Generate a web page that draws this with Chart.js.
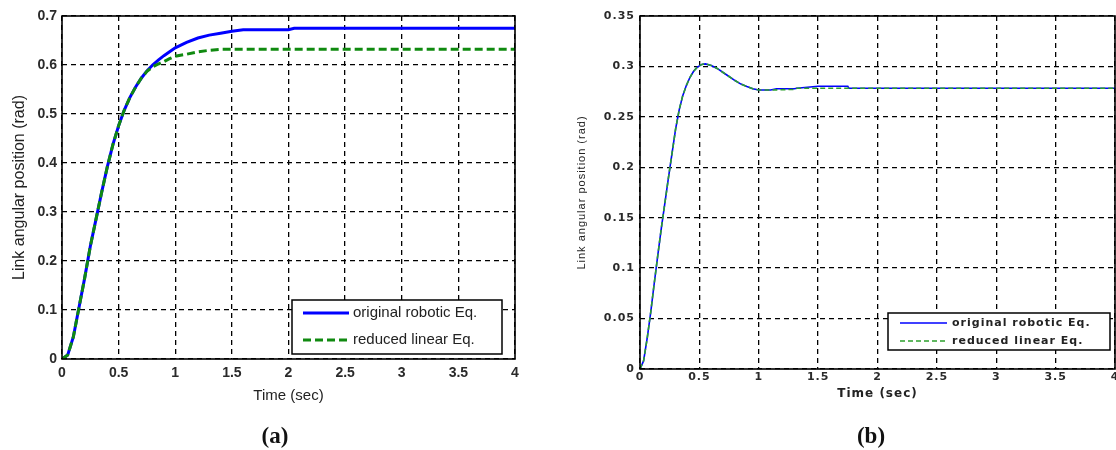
<!DOCTYPE html>
<html><head><meta charset="utf-8">
<script src="https://cdn.jsdelivr.net/npm/chart.js@4.4.1/dist/chart.umd.min.js"></script>
<style>
html,body{margin:0;padding:0;background:#fff;width:1116px;height:450px;overflow:hidden;position:relative;}
.cap{position:absolute;top:421px;font:bold 23px "Liberation Serif",serif;color:#111;width:60px;text-align:center;line-height:30px;}
</style></head><body>
<canvas id="ca" width="540" height="450" style="position:absolute;left:0;top:0"></canvas>
<canvas id="cb" width="570" height="450" style="position:absolute;left:570px;top:0"></canvas>
<div class="cap" style="left:245px">(a)</div>
<div class="cap" style="left:841px">(b)</div>
<script>
// ---- data: panel (a)
const timeA = [0,0.05,0.1,0.15,0.2,0.25,0.3,0.35,0.4,0.45,0.5,0.55,0.6,0.65,0.7,0.75,0.8,0.85,0.9,0.95,1.0,1.1,1.2,1.3,1.4,1.5,1.6,1.8,2.0,2.05,2.5,3,3.5,4];
const originalA = [0,0.008,0.045,0.105,0.165,0.23,0.285,0.34,0.392,0.438,0.476,0.508,0.534,0.555,0.573,0.588,0.6,0.61,0.619,0.627,0.635,0.646,0.655,0.661,0.665,0.669,0.672,0.672,0.672,0.675,0.675,0.675,0.675,0.675];
const reducedA = [0,0.008,0.045,0.105,0.165,0.23,0.285,0.34,0.392,0.438,0.476,0.508,0.534,0.555,0.573,0.587,0.596,0.602,0.607,0.613,0.618,0.622,0.627,0.63,0.632,0.632,0.632,0.632,0.632,0.632,0.632,0.632,0.632,0.632];
// ---- data: panel (b)
const timeB = [0,0.03,0.06,0.09,0.12,0.15,0.18,0.21,0.24,0.27,0.3,0.33,0.36,0.39,0.42,0.45,0.48,0.52,0.55,0.6,0.65,0.7,0.75,0.8,0.85,0.9,0.95,1.0,1.1,1.15,1.3,1.32,1.5,1.75,1.76,2,2.5,3,3.5,4];
const originalB = [0,0.008,0.03,0.056,0.085,0.113,0.14,0.165,0.19,0.214,0.238,0.257,0.271,0.281,0.289,0.295,0.299,0.302,0.3025,0.301,0.298,0.294,0.29,0.286,0.2825,0.28,0.2778,0.2766,0.2766,0.2779,0.2779,0.2783,0.2803,0.2803,0.2783,0.2783,0.2783,0.2783,0.2783,0.2783];
const reducedB = [0,0.008,0.03,0.056,0.085,0.113,0.14,0.165,0.19,0.214,0.238,0.257,0.271,0.281,0.289,0.295,0.299,0.302,0.3025,0.301,0.298,0.294,0.29,0.286,0.2825,0.28,0.2778,0.2766,0.2766,0.2768,0.2772,0.2783,0.2783,0.2783,0.2783,0.2783,0.2783,0.2783,0.2783,0.2783];
const xTicksA = [0,0.5,1,1.5,2,2.5,3,3.5,4];
const seriesNames = ['original robotic Eq.', 'reduced linear Eq.'];
const axisTitleY = 'Link angular position (rad)';
const axisTitleX = 'Time (sec)';

Chart.defaults.font.family = '"Liberation Sans", Arial, sans-serif';
Chart.defaults.color = '#222';

const frameLegend = {
  id: 'frameLegend',
  beforeDraw(chart) {
    const o = chart.options.plugins.frameLegend;
    chart.ctx.letterSpacing = o.ls || '0px';
  },
  afterDraw(chart) {
    const o = chart.options.plugins.frameLegend;
    const ctx = chart.ctx, a = chart.chartArea, L = o.legend;
    ctx.save();
    ctx.setLineDash([]);
    ctx.strokeStyle = '#000';
    ctx.lineWidth = o.frameWidth;
    ctx.strokeRect(a.left, a.top, a.right - a.left, a.bottom - a.top);
    const x = a.right - L.right - L.w, y = a.bottom - L.bottom - L.h;
    ctx.fillStyle = '#fff';
    ctx.fillRect(x, y, L.w, L.h);
    ctx.lineWidth = L.boxWidth;
    ctx.strokeRect(x, y, L.w, L.h);
    chart.data.datasets.forEach((ds, i) => {
      const yy = y + L.first + i * L.gap;
      ctx.strokeStyle = ds.borderColor;
      ctx.lineWidth = ds.borderWidth;
      ctx.setLineDash(ds.borderDash || []);
      ctx.beginPath(); ctx.moveTo(x + L.lx0, yy); ctx.lineTo(x + L.lx1, yy); ctx.stroke();
      ctx.setLineDash([]);
      ctx.fillStyle = L.color; ctx.font = L.font;
      ctx.textBaseline = 'middle'; ctx.textAlign = 'left';
      ctx.letterSpacing = o.ls || '0px';
      ctx.fillText(ds.label, x + L.tx, yy);
    });
    ctx.restore();
    chart.ctx.letterSpacing = '0px';
  }
};

const fmt = v => String(+Number(v).toFixed(2));

function makeChart(id, cfg) {
  return new Chart(document.getElementById(id), {
    type: 'line',
    data: {
      datasets: [
        { label: seriesNames[0], data: cfg.t.map((t, i) => ({x: t, y: cfg.o[i]})), order: 2,
          borderColor: '#0000ff', borderWidth: cfg.lw, pointRadius: 0, tension: 0, fill: false },
        { label: seriesNames[1], data: cfg.t.map((t, i) => ({x: t, y: cfg.r[i]})), order: 1,
          borderColor: cfg.green, borderWidth: cfg.lw, borderDash: cfg.dash, pointRadius: 0, tension: 0, fill: false }
      ]
    },
    options: {
      responsive: false, animation: false, devicePixelRatio: 1,
      layout: { padding: cfg.pad },
      plugins: { legend: { display: false }, tooltip: { enabled: false }, frameLegend: cfg.fl },
      scales: {
        x: {
          type: 'linear', min: 0, max: 4,
          afterFit: s => { s.height = cfg.xh; s.paddingLeft = 0; s.paddingRight = 0; },
          afterBuildTicks: s => { s.ticks = xTicksA.map(v => ({value: v})); },
          ticks: { padding: cfg.xtp, maxRotation: 0, autoSkip: false, callback: fmt, font: cfg.tickFont, color: cfg.tickColor },
          grid: { color: '#000', lineWidth: cfg.gw, drawTicks: false },
          border: { display: false, dash: [5, 4] },
          title: { display: true, text: axisTitleX, font: cfg.xtFont, color: '#222', padding: {top: 0, bottom: cfg.xtPad} }
        },
        y: {
          type: 'linear', min: 0, max: cfg.ymax,
          afterFit: s => { s.width = cfg.yw; s.paddingTop = 0; s.paddingBottom = 0; },
          ticks: { stepSize: cfg.ystep, padding: cfg.ytp, callback: fmt, font: cfg.tickFont, color: cfg.tickColor },
          grid: { color: '#000', lineWidth: cfg.gw, drawTicks: false },
          border: { display: false, dash: [5, 4] },
          title: { display: true, text: axisTitleY, font: cfg.ytFont, color: '#222', padding: {top: cfg.ytPad, bottom: 0} }
        }
      }
    },
    plugins: [frameLegend]
  });
}

makeChart('ca', {
  t: timeA, o: originalA, r: reducedA, lw: 3, green: '#108a10', dash: [8, 4],
  pad: {left: 0, top: 16, right: 25, bottom: 41}, xh: 50, yw: 62, ymax: 0.7, ystep: 0.1,
  xtp: 6, ytp: 5, gw: 1.3,
  tickFont: {size: 14, weight: 'bold'}, tickColor: '#2a2a2a',
  xtFont: {size: 15}, xtPad: 4, ytFont: {size: 16}, ytPad: 10,
  fl: { frameWidth: 1.6, ls: '0px',
        legend: { w: 210, h: 54, right: 13, bottom: 5, boxWidth: 1.5, first: 13, gap: 27,
                  lx0: 11, lx1: 57, tx: 61, font: '15px "Liberation Sans", Arial, sans-serif', color: '#222' } }
});

makeChart('cb', {
  t: timeB, o: originalB, r: reducedB, lw: 1.6, green: '#2ca02c', dash: [5, 3],
  pad: {left: 0, top: 16, right: 25, bottom: 41}, xh: 40, yw: 70, ymax: 0.35, ystep: 0.05,
  xtp: 2, ytp: 5, gw: 1.3,
  tickFont: {size: 11, weight: 'bold', family: '"DejaVu Sans", sans-serif'}, tickColor: '#2a2a2a',
  xtFont: {size: 12, weight: 'bold', family: '"DejaVu Sans", sans-serif'}, xtPad: 8,
  ytFont: {size: 11, family: '"Liberation Sans Narrow", "Liberation Sans", sans-serif'}, ytPad: 5,
  fl: { frameWidth: 1.6, ls: '1px',
        legend: { w: 222, h: 37, right: 5, bottom: 19, boxWidth: 1.5, first: 10, gap: 18,
                  lx0: 12, lx1: 59, tx: 64, font: 'bold 11px "DejaVu Sans", sans-serif', color: '#222' } }
});
</script>
</body></html>
